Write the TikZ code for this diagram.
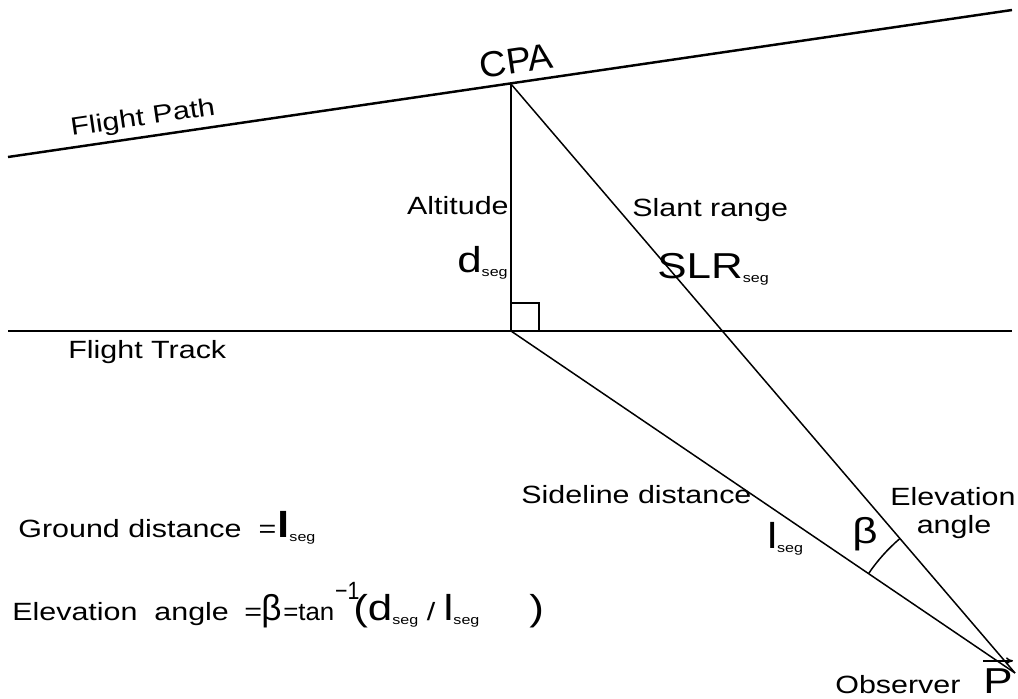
\documentclass[tikz,border=0pt]{standalone}
\usepackage{fontspec}
\setmainfont{Liberation Sans}[FakeStretch=1.22]
\usetikzlibrary{arrows.meta}
\newcommand\normsz{\fontsize{14.2}{17}\selectfont}
\newcommand\bigsz{\fontsize{20.5}{24}\selectfont}
\newcommand\sg{\raisebox{-2.5pt}{\fontsize{7.5}{8}\selectfont seg}}
\begin{document}
\begin{tikzpicture}[x=0.02cm,y=0.02cm,
        txt/.style={inner sep=0pt,font=\normsz},
        big/.style={inner sep=0pt,font=\bigsz},
        ln/.style={line width=0.85pt}]
        \useasboundingbox (0,0) rectangle (1018,698);
        % points
        \coordinate (fpl) at (8,541);
        \coordinate (fpr) at (1012,688);
        \coordinate (ftl) at (8,367);
        \coordinate (ftr) at (1012,367);
        \coordinate (cpa) at (511,614);
        \coordinate (foot) at (511,367);
        \coordinate (obs) at (1015,25);
        % lines
        \draw[line width=1.4pt] (fpl) -- (fpr);
        \draw[line width=1.1pt] (ftl) -- (ftr);
        \draw[ln] (cpa) -- (foot);
        \draw[ln] (cpa) -- (obs);
        \draw[ln] (foot) -- (obs);
        \draw[ln] (foot) rectangle ++(28,28);
        \draw[ln] (obs) ++(145.84:177) arc[start angle=145.84, end angle=130.55, radius=177];
        % labels
        \node[big,anchor=base,rotate=8.33,xscale=0.85] (cpalbl) at (518,625) {CPA};
        \node[txt,rotate=8.33] (fplbl) at (143,579) {Flight Path};
        \node[txt,anchor=base west] (ftlbl) at (68,340) {Flight Track};
        \node[txt,anchor=base east] (alt) at (509,484) {Altitude};
        \node[txt,anchor=base east] (dseg) at (508,426) {{\bigsz d}\sg};
        \node[txt,anchor=base west] (slant) at (632,482) {Slant range};
        \node[txt,anchor=base west] (slr) at (657,420) {{\bigsz SLR}\sg};
        \node[txt,anchor=base west] (side) at (521,195) {Sideline distance};
        \node[txt,anchor=base west] (lseg) at (767,150) {{\bigsz l}\sg};
        \node[big,anchor=base west] (beta) at (852,155) {β};
        \node[txt,anchor=base west] (elev) at (890,193) {Elevation};
        \node[txt,anchor=base] (ang) at (954,165) {angle};
        % bottom left text
        \node[txt,anchor=base west] (ground) at (18,161) {Ground distance\ \ =\kern0.5pt{\bigsz\bfseries l}\sg};
        \node[txt,anchor=base west] (formula) at (12,78) {Elevation\ \ angle};
        \node[txt,anchor=base west] (feq) at (244,78) {=};
        \node[big,anchor=base west,xscale=0.8] (fbeta) at (261,78) {β};
        \node[txt,anchor=base west,xscale=0.85] (ftan) at (283,78) {=tan};
        \node[txt,anchor=base west,xscale=0.7] (fexp) at (335,99) {−1};
        \node[txt,anchor=base west] (fpar) at (353,78) {{\bigsz(d}\sg\ /\ {\bigsz l}\sg};
        \node[big,anchor=base west] (fclose) at (529,78) {)};
        % observer
        \node[txt,anchor=base west] (observer) at (835,5) {Observer};
        \node[big,anchor=base west] (pvec) at (983,5) {P};
        \draw[ln,-{To[length=4pt,width=4pt]}] ([yshift=4pt]pvec.north west) -- ([yshift=4pt]pvec.north east);
\end{tikzpicture}
\end{document}
